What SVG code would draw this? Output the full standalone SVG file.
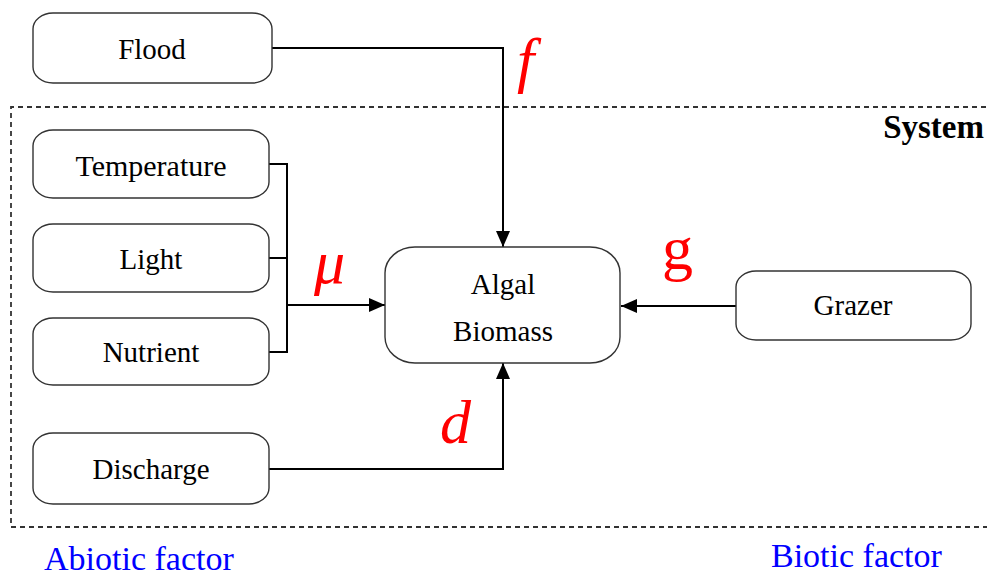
<svg xmlns="http://www.w3.org/2000/svg" width="987" height="579" viewBox="0 0 987 579">
  <style>
    text { font-family: "Liberation Serif", "Times New Roman", "DejaVu Serif", "Noto Serif", serif; }
    .box { fill: #ffffff; stroke: #333333; stroke-width: 1.4; }
    .lbl { font-size: 29px; fill: #000000; text-anchor: middle; }
    .wire { fill: none; stroke: #000000; stroke-width: 2; }
    .rate { fill: #ff0000; font-size: 62px; }
    .note { fill: #0000ff; font-size: 34px; }
  </style>
  <defs>
    <marker id="arrow" viewBox="0 0 16 14" refX="16" refY="7" markerWidth="16" markerHeight="14" markerUnits="userSpaceOnUse" orient="auto">
      <path d="M0,0 L16,7 L0,14 Z" fill="#000000"/>
    </marker>
  </defs>
  <rect width="987" height="579" fill="#ffffff"/>

  <!-- system boundary -->
  <g id="system">
    <path d="M995,107 H11 V527 H995" fill="none" stroke="#333333" stroke-width="1.8" stroke-dasharray="5,4"/>
    <text x="984" y="138" text-anchor="end" font-weight="bold" font-size="33">System</text>
  </g>

  <!-- connectors -->
  <g id="connectors">
    <path class="wire" d="M272,48 H503 V247" marker-end="url(#arrow)"/>
    <path class="wire" d="M269,164 H287 V352 H269 M269,258 H287"/>
    <path class="wire" d="M287,305 H385" marker-end="url(#arrow)"/>
    <path class="wire" d="M269,469 H503 V363" marker-end="url(#arrow)"/>
    <path class="wire" d="M736,306 H621" marker-end="url(#arrow)"/>
    <text class="rate" x="517" y="81" font-style="italic">f</text>
    <text class="rate" x="314" y="283" font-style="italic">μ</text>
    <text class="rate" x="440" y="443" font-style="italic">d</text>
    <text class="rate" x="662" y="269">g</text>
  </g>

  <g id="flood">
    <rect class="box" x="33" y="13" width="239" height="70" rx="20" ry="16"/>
    <text class="lbl" x="152" y="59">Flood</text>
  </g>
  <g id="temperature">
    <rect class="box" x="33" y="130" width="236" height="68" rx="20" ry="16"/>
    <text class="lbl" x="151" y="176" style="font-size:30px">Temperature</text>
  </g>
  <g id="light">
    <rect class="box" x="33" y="224" width="236" height="68" rx="20" ry="16"/>
    <text class="lbl" x="151" y="269">Light</text>
  </g>
  <g id="nutrient">
    <rect class="box" x="33" y="318" width="236" height="67" rx="20" ry="16"/>
    <text class="lbl" x="151" y="362">Nutrient</text>
  </g>
  <g id="discharge">
    <rect class="box" x="33" y="433" width="236" height="71" rx="20" ry="16"/>
    <text class="lbl" x="151" y="479">Discharge</text>
  </g>
  <g id="algal-biomass">
    <rect class="box" x="385" y="247" width="235" height="116" rx="30" ry="26"/>
    <text class="lbl" x="503" y="294">Algal</text>
    <text class="lbl" x="503" y="341">Biomass</text>
  </g>
  <g id="grazer">
    <rect class="box" x="736" y="271" width="235" height="69" rx="20" ry="16"/>
    <text class="lbl" x="853" y="315">Grazer</text>
  </g>

  <text class="note" x="44" y="570">Abiotic factor</text>
  <text class="note" x="771" y="567">Biotic factor</text>
</svg>
